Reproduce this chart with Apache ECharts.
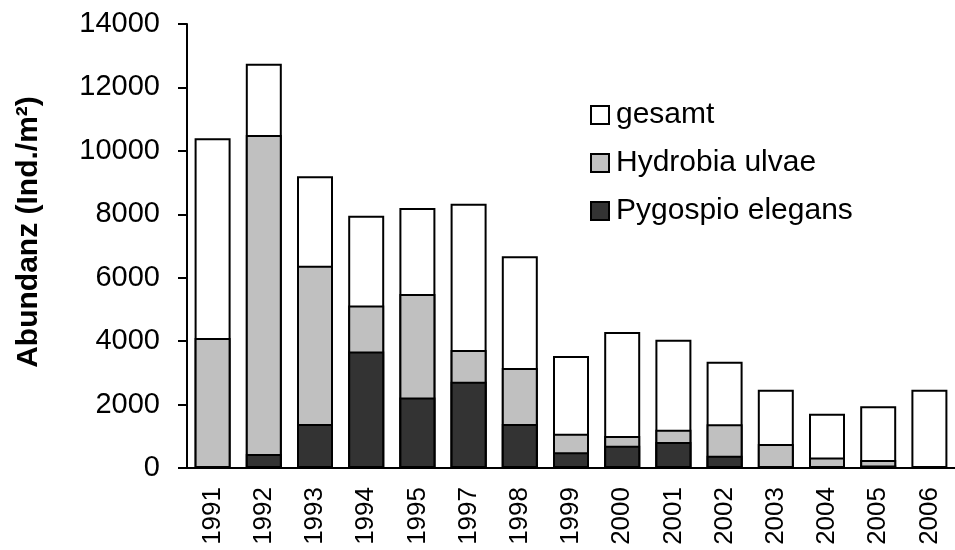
<!DOCTYPE html>
<html>
<head>
<meta charset="utf-8">
<script src="https://cdn.jsdelivr.net/npm/echarts@6/dist/echarts.min.js"></script>
<style>
  html, body { margin: 0; padding: 0; background: #fff; }
  #chart { width: 955px; height: 550px; }
</style>
</head>
<body>
<div id="chart"></div>
<script>
const years = ["1991", "1992", "1993", "1994", "1995", "1997", "1998", "1999",
  "2000", "2001", "2002", "2003", "2004", "2005", "2006"];
// Werte
const gesamt = [10400, 12750, 9200, 7950, 8200, 8330, 6680, 3530, 4290, 4040, 3350, 2470, 1710, 1950, 2470];
const hydrobia = [4100, 10500, 6380, 5120, 5490, 3720, 3150, 1080, 1010, 1210, 1380, 760, 330, 250, 0];
const pygospio = [0, 440, 1390, 3670, 2220, 2720, 1390, 500, 700, 820, 390, 0, 0, 80, 0];
const yTicks = { min: 0, max: 14000, interval: 2000 };

const font = "'Liberation Sans', Arial, sans-serif";

const chart = echarts.init(document.getElementById("chart"));

function barSeries(name, data, color) {
  return {
    name: name,
    type: "bar",
    data: data,
    barWidth: 36,
    barGap: "-100%",
    itemStyle: {
      color: color,
      borderColor: "#000",
      borderWidth: 2,
    },
  };
}

chart.setOption({
  animation: false,
  textStyle: { fontFamily: font, color: "#000" },
  grid: {
    left: 187,
    top: 24,
    bottom: 82,
    right: -10,
  },
  legend: {
    orient: "vertical",
    left: 585,
    top: 94,
    itemWidth: 18,
    itemHeight: 18,
    itemGap: 16,
    icon: "rect",
    textStyle: {
      fontFamily: font,
      fontSize: 30,
      lineHeight: 32,
      color: "#000",
      padding: [0, 0, 0, 2],
    },
    data: ["gesamt", "Hydrobia ulvae", "Pygospio elegans"],
  },
  xAxis: {
    type: "category",
    data: years,
    axisLine: { lineStyle: { color: "#000", width: 2 } },
    axisTick: { length: 8, lineStyle: { color: "#000", width: 2 } },
    axisLabel: {
      rotate: 90,
      margin: 19,
      fontSize: 26,
      fontFamily: font,
      color: "#000",
    },
  },
  yAxis: {
    type: "value",
    min: yTicks.min,
    max: yTicks.max,
    interval: yTicks.interval,
    name: "Abundanz (Ind./m²)",
    nameLocation: "middle",
    nameRotate: 90,
    nameGap: 143,
    nameTextStyle: {
      fontFamily: font,
      fontSize: 30,
      fontWeight: "bold",
      color: "#000",
      padding: [0, 0, 0, 28],
    },
    axisLine: { show: true, lineStyle: { color: "#000", width: 2 } },
    axisTick: { show: true, length: 9, lineStyle: { color: "#000", width: 2 } },
    splitLine: { show: false },
    axisLabel: {
      margin: 27,
      fontSize: 29,
      fontFamily: font,
      color: "#000",
      formatter: (v) => String(v),
    },
  },
  series: [
    barSeries("gesamt", gesamt, "#ffffff"),
    barSeries("Hydrobia ulvae", hydrobia, "#c0c0c0"),
    barSeries("Pygospio elegans", pygospio, "#333333"),
  ],
});
</script>
</body>
</html>
